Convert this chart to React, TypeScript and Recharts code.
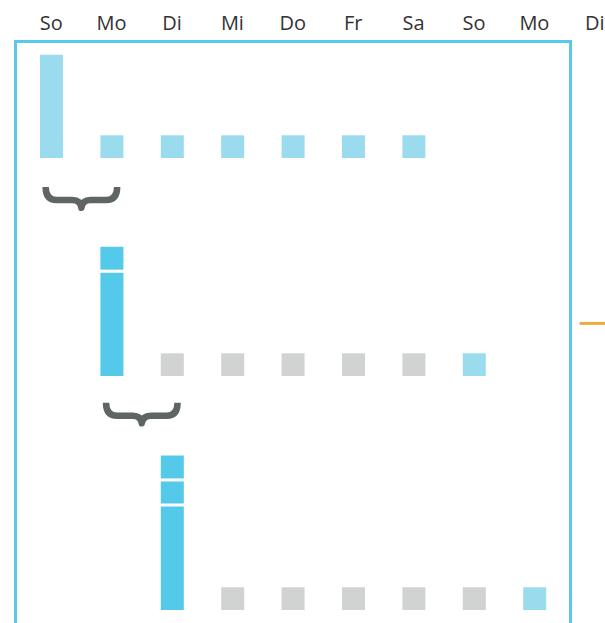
import { BarChart, Bar, XAxis, YAxis, Cell, ReferenceArea } from "recharts";

document.body.style.margin = "0";
document.body.style.overflow = "hidden";

// Wochentage oben, die Slots sind eindeutige Schlüssel (So/Mo/Di kommen doppelt vor)
const days = ["So", "Mo", "Di", "Mi", "Do", "Fr", "Sa", "So", "Mo", "Di"];
const slots = ["t0", "t1", "t2", "t3", "t4", "t5", "t6", "t7", "t8", "t9"];

// Reihe 1
const row1Base = [4.55, 1, 1, 1, 1, 1, 1, 0, 0, 0];
const row1Tone = ["hell", "hell", "hell", "hell", "hell", "hell", "hell", "", "", ""];

// Reihe 2
const row2Base = [0, 4.55, 1, 1, 1, 1, 1, 1, 0, 0];
const row2ExtraA = [0, 1.14, 0, 0, 0, 0, 0, 0, 0, 0];
const row2ExtraB = [0, 0, 0, 0, 0, 0, 0, 0, 0, 0];
const row2Tone = ["", "voll", "grau", "grau", "grau", "grau", "grau", "hell", "", ""];

// Reihe 3
const row3Base = [0, 0, 4.55, 1, 1, 1, 1, 1, 1, 0];
const row3ExtraA = [0, 0, 1.1, 0, 0, 0, 0, 0, 0, 0];
const row3ExtraB = [0, 0, 1.14, 0, 0, 0, 0, 0, 0, 0];
const row3Tone = ["", "", "voll", "grau", "grau", "grau", "grau", "grau", "hell", ""];

const tones: Record<string, string> = {
  hell: "#9adbee",
  voll: "#55c9ea",
  grau: "#d1d2d2",
};

const buildRows = (base: number[], a: number[], b: number[]) =>
  slots.map((slot, i) => ({ slot, day: days[i], base: base[i], a: a[i], b: b[i] }));

const Segment = (p: any) =>
  p.height > 0 ? (
    <rect x={p.x} y={p.y} width={p.width} height={Math.max(p.height - 3, 0)} fill={p.fill} />
  ) : null;

const Brace = (p: any) => {
  const { x, y, width, height } = p;
  const inset = width * 0.175;
  const L = x + inset + 3.5;
  const R = x + width - inset - 3.5;
  const M = (L + R) / 2;
  const barY = y + 13;
  const tip = y + height - 4;
  const d = `M${L},${y} Q${L},${barY} ${L + 11},${barY} L${M - 9},${barY} Q${M - 1},${barY} ${M},${tip} Q${M + 1},${barY} ${M + 9},${barY} L${R - 11},${barY} Q${R},${barY} ${R},${y}`;
  return <path d={d} fill="none" stroke="#5f6565" strokeWidth={6.5} strokeLinejoin="round" />;
};

const Marker = (p: any) => (
  <rect x={p.x + 15} y={p.y} width={p.width - 15} height={p.height} fill="#f4a73c" />
);

function Row({ data, tone, top, height, bottom, max, showDays, brace, marker }: any) {
  return (
    <div style={{ position: "absolute", left: 0, top }}>
      <BarChart
        width={640}
        height={height}
        data={data}
        margin={{ top: 0, right: 15, bottom, left: 21 }}
      >
        <XAxis
          dataKey="slot"
          orientation="top"
          hide={!showDays}
          height={40}
          axisLine={false}
          tickLine={false}
          tickMargin={4}
          interval={0}
          tickFormatter={(v: string) => days[slots.indexOf(v)]}
          tick={{ fill: "#333", fontSize: 20, fontFamily: "Open Sans" }}
        />
        <YAxis hide domain={[0, max]} />
        <Bar dataKey="base" stackId="s" barSize={23} isAnimationActive={false}>
          {data.map((_: any, i: number) => (
            <Cell key={i} fill={tones[tone[i]] || "transparent"} />
          ))}
        </Bar>
        <Bar dataKey="a" stackId="s" barSize={23} fill={tones.voll} shape={Segment} isAnimationActive={false} />
        <Bar dataKey="b" stackId="s" barSize={23} fill={tones.voll} shape={Segment} isAnimationActive={false} />
        {brace && (
          <ReferenceArea
            x1={brace.from}
            x2={brace.to}
            y1={brace.y1}
            y2={brace.y2}
            ifOverflow="visible"
            shape={Brace}
          />
        )}
        {marker && (
          <ReferenceArea
            x1={marker.at}
            x2={marker.at}
            y1={marker.y1}
            y2={marker.y2}
            ifOverflow="visible"
            shape={Marker}
          />
        )}
      </BarChart>
    </div>
  );
}

export default function App() {
  return (
    <div
      style={{
        position: "relative",
        width: 605,
        height: 623,
        overflow: "hidden",
        background: "#fff",
        fontFamily: "Open Sans",
      }}
    >
      <div
        style={{
          position: "absolute",
          left: 14,
          top: 40,
          width: 558,
          height: 700,
          boxSizing: "border-box",
          border: "3px solid #5ac8e9",
        }}
      />
      <Row
        data={buildRows(row1Base, row2ExtraB, row2ExtraB)}
        tone={row1Tone}
        top={0}
        height={218}
        bottom={60}
        max={5.2}
        showDays
        brace={{ from: "t0", to: "t1", y1: -1.28, y2: -2.37 }}
      />
      <Row
        data={buildRows(row2Base, row2ExtraA, row2ExtraB)}
        tone={row2Tone}
        top={217}
        height={219}
        bottom={60}
        max={7}
        brace={{ from: "t1", to: "t2", y1: -1.18, y2: -2.26 }}
        marker={{ at: "t9", y1: 2.25, y2: 2.38 }}
      />
      <Row
        data={buildRows(row3Base, row3ExtraA, row3ExtraB)}
        tone={row3Tone}
        top={428}
        height={196}
        bottom={14}
        max={8}
      />
    </div>
  );
}
